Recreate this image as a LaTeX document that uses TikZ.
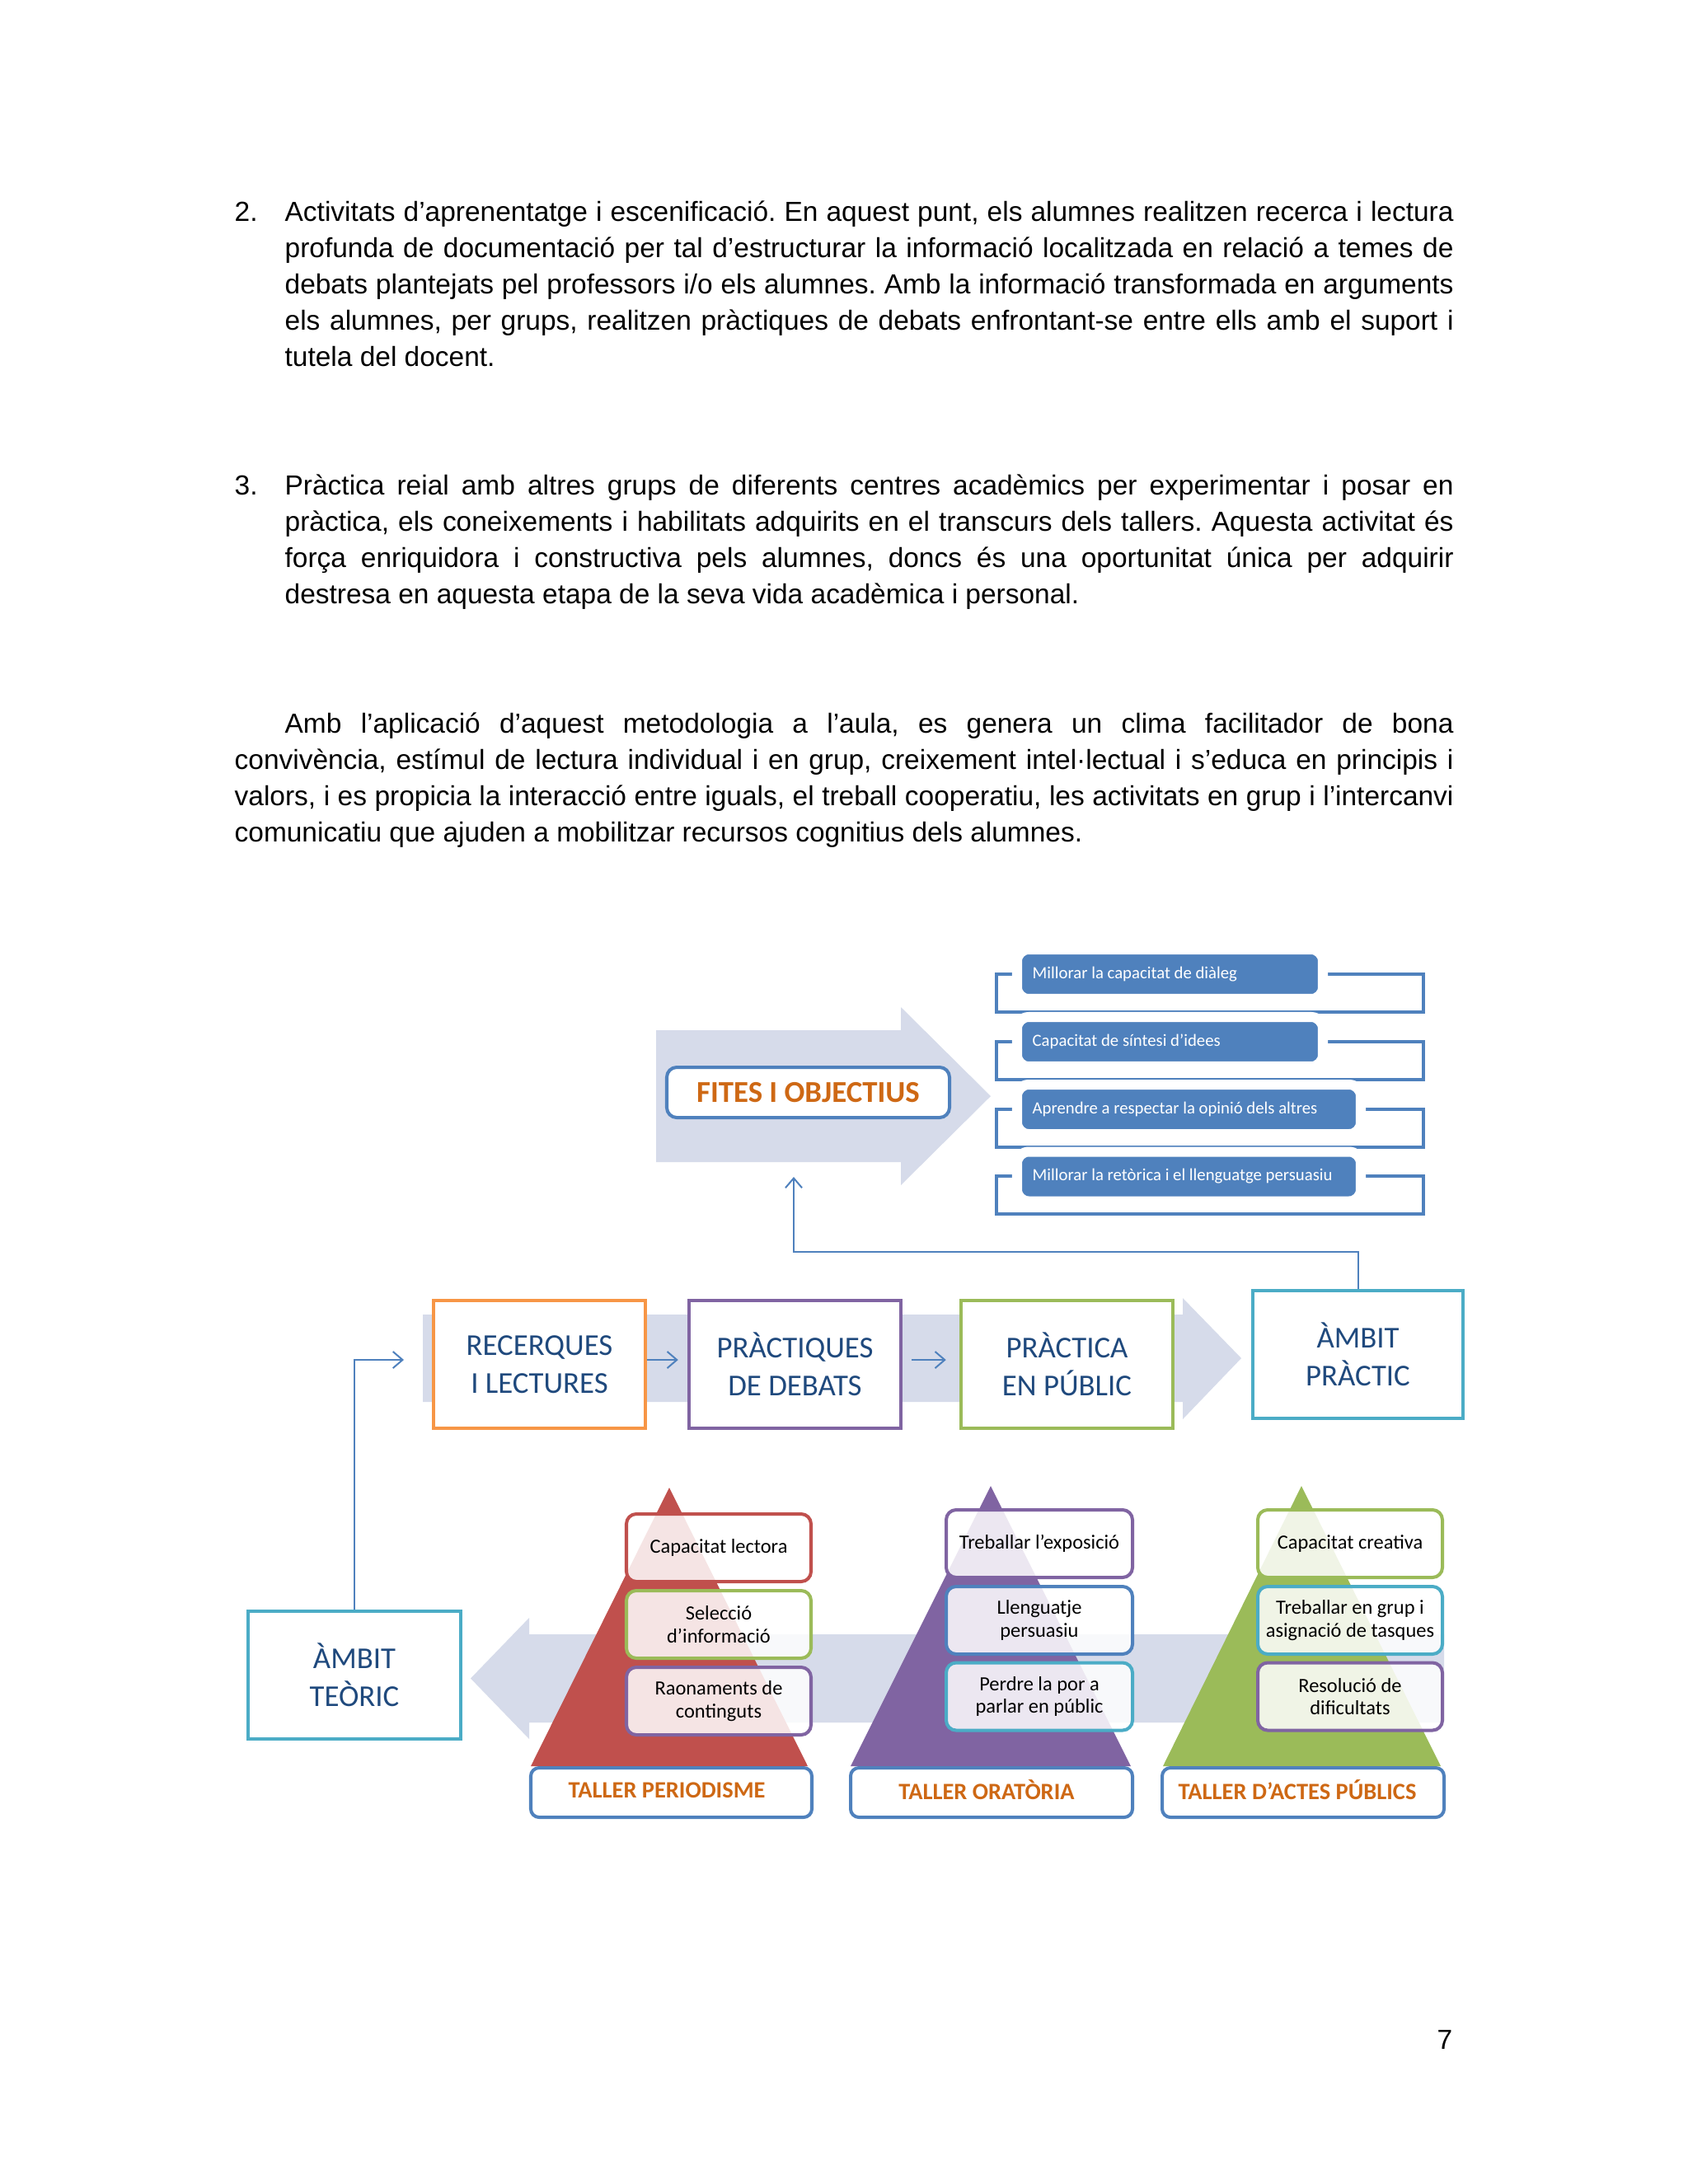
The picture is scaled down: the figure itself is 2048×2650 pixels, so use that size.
\documentclass[tikz,border=0pt]{standalone}
\usepackage{fontspec}
\setmainfont{Liberation Sans}
\newfontfamily\carl{Carlito}
\usetikzlibrary{arrows.meta}
\definecolor{band}{RGB}{214,219,234}
\definecolor{accblue}{RGB}{79,129,189}
\definecolor{accorange}{RGB}{247,150,70}
\definecolor{accpurple}{RGB}{128,100,162}
\definecolor{accgreen}{RGB}{155,187,89}
\definecolor{accteal}{RGB}{75,172,198}
\definecolor{accred}{RGB}{192,80,77}
\definecolor{navy}{RGB}{31,73,125}
\definecolor{ortext}{RGB}{206,104,20}
\newcommand\jline[1]{\makebox[423.74pt][s]{#1}}
\newcommand\fline[1]{\makebox[441.97pt][s]{#1}}
\frenchspacing
\tikzset{
  sz/.style 2 args={minimum width=#1*0.29883pt, minimum height=#2*0.29883pt},
  bodyline/.style={anchor=base west, inner sep=0pt, font=\fontsize{10}{13.15}\selectfont},
  mainbox/.style={draw, line width=1.3pt, fill=white, inner sep=0pt, align=center, text=navy, font=\carl\fontsize{11}{13.7}\selectfont},
  pybox/.style={draw, line width=1.2pt, rounded corners=3.6pt, fill=white, fill opacity=0.85, text opacity=1, inner sep=0pt, align=center, font=\carl\fontsize{7.3}{8.2}\selectfont},
  tallerbox/.style={draw=accblue, line width=1.2pt, rounded corners=3pt, fill=white, inner sep=0pt, text=ortext, font=\carl\bfseries\fontsize{8.5}{10}\selectfont},
  gbox/.style={draw=white, line width=3.6pt, fill=accblue, rounded corners=4.2pt, inner sep=0pt},
  gtext/.style={anchor=west, inner sep=0pt, text=white, font=\carl\fontsize{6.2}{7.5}\selectfont},
  bracketbox/.style={draw=accblue, line width=1.1pt, inner sep=0pt},
  conn/.style={draw=accblue, line width=0.6pt, -{Straight Barb[length=3.5pt,width=6pt]}},
}
\begin{document}
\begin{tikzpicture}[x=0.29883pt, y=-0.29883pt]
\useasboundingbox (0,0) rectangle (2048,2650);
\fill[white] (0,0) rectangle (2048,2650);

% ---------- body text ----------
\node[bodyline] (n2) at (284,268) {2.};
\node[bodyline] (p2a) at (345,268) {\jline{Activitats d’aprenentatge i escenificació. En aquest punt, els alumnes realitzen recerca i lectura}};
\node[bodyline] (p2b) at (345,312) {\jline{profunda de documentació per tal d’estructurar la informació localitzada en relació a temes de}};
\node[bodyline] (p2c) at (345,356) {\jline{debats plantejats pel professors i/o els alumnes. Amb la informació transformada en arguments}};
\node[bodyline] (p2d) at (345,400) {\jline{els alumnes, per grups, realitzen pràctiques de debats enfrontant-se entre ells amb el suport i}};
\node[bodyline] (p2e) at (345,444) {tutela del docent.};

\node[bodyline] (n3) at (284,600) {3.};
\node[bodyline] (p3a) at (345,600) {\jline{Pràctica reial amb altres grups de diferents centres acadèmics per experimentar i posar en}};
\node[bodyline] (p3b) at (345,644) {\jline{pràctica, els coneixements i habilitats adquirits en el transcurs dels tallers. Aquesta activitat és}};
\node[bodyline] (p3c) at (345,688) {\jline{força enriquidora i constructiva pels alumnes, doncs és una oportunitat única per adquirir}};
\node[bodyline] (p3d) at (345,732) {destresa en aquesta etapa de la seva vida acadèmica i personal.};

\node[bodyline] (p4a) at (345,889) {\jline{Amb l’aplicació d’aquest metodologia a l’aula, es genera un clima facilitador de bona}};
\node[bodyline] (p4b) at (284,933) {\fline{convivència, estímul de lectura individual i en grup, creixement intel·lectual i s’educa en principis i}};
\node[bodyline] (p4c) at (284,977) {\fline{valors, i es propicia la interacció entre iguals, el treball cooperatiu, les activitats en grup i l’intercanvi}};
\node[bodyline] (p4d) at (284,1021) {comunicatiu que ajuden a mobilitzar recursos cognitius dels alumnes.};

\node[anchor=base east, inner sep=0pt, font=\fontsize{10}{12}\selectfont] (pg) at (1763,2486) {7};

% ---------- FITES I OBJECTIUS ----------
\fill[band] (796,1250) -- (1093,1250) -- (1093,1222) -- (1202,1330) -- (1093,1438) -- (1093,1410) -- (796,1410) -- cycle;
\node[draw=accblue, line width=1.2pt, rounded corners=3.6pt, fill=white, sz={343}{61}, inner sep=0pt, text=ortext, font=\carl\bfseries\fontsize{11}{13}\selectfont] (fites) at (980.5,1325.5) {FITES I OBJECTIUS};
\coordinate (fin) at (963,1428);

\node[bracketbox, sz={518}{46}] (o1) at (1468,1205) {};
\node[bracketbox, sz={518}{46}] (o2) at (1468,1287) {};
\node[bracketbox, sz={518}{46}] (o3) at (1468,1369) {};
\node[bracketbox, sz={518}{46}] (o4) at (1468,1450) {};
\node[gbox, sz={371}{60}] (g1) at (1419.5,1182) {};
\node[gbox, sz={371}{60}] (g2) at (1419.5,1264) {};
\node[gbox, sz={417}{60}] (g3) at (1442.5,1346) {};
\node[gbox, sz={417}{60}] (g4) at (1442.5,1427.5) {};
\node[gtext] (g1t) at (1252,1182) {Millorar la capacitat de diàleg};
\node[gtext] (g2t) at (1252,1264) {Capacitat de síntesi d’idees};
\node[gtext] (g3t) at (1252,1346) {Aprendre a respectar la opinió dels altres};
\node[gtext] (g4t) at (1252,1427.5) {Millorar la retòrica i el llenguatge persuasiu};

% ---------- main row ----------
\fill[band] (513,1595) -- (1435,1595) -- (1435,1575) -- (1506,1648) -- (1435,1722) -- (1435,1701) -- (513,1701) -- cycle;
\node[mainbox, draw=accorange, sz={257}{155}] (rec) at (654.5,1655.5) {RECERQUES\\I LECTURES};
\node[mainbox, draw=accpurple, sz={257}{155}] (prq) at (964.5,1655.5) {PRÀCTIQUES\\DE DEBATS};
\node[mainbox, draw=accgreen, sz={257}{155}] (prp) at (1294.5,1655.5) {PRÀCTICA\\EN PÚBLIC};
\node[mainbox, draw=accteal, sz={255}{155}] (ambp) at (1647.5,1643.5) {ÀMBIT\\PRÀCTIC};
\node[mainbox, draw=accteal, sz={258}{155}] (ambt) at (430,2032.5) {ÀMBIT\\TEÒRIC};

% ---------- tallers ----------
\fill[band] (1752,1983) -- (642,1983) -- (642,1963) -- (571,2036.5) -- (642,2110) -- (642,2090) -- (1752,2090) -- cycle;
\fill[accred] (812,1805) -- (980,2143) -- (644,2143) -- cycle;
\fill[accpurple] (1202,1803) -- (1372,2143) -- (1032,2143) -- cycle;
\fill[accgreen] (1579,1803) -- (1748,2143) -- (1411,2143) -- cycle;

\node[pybox, draw=accred, sz={224}{82}] (c1a) at (872,1878) {Capacitat lectora};
\node[pybox, draw=accgreen, sz={224}{82}] (c1b) at (872,1971) {Selecció\\d’informació};
\node[pybox, draw=accpurple, sz={224}{82}] (c1c) at (872,2064) {Raonaments de\\continguts};
\node[pybox, draw=accpurple, sz={226}{82}] (c2a) at (1261,1873) {Treballar l’exposició};
\node[pybox, draw=accblue, sz={226}{82}] (c2b) at (1261,1966) {Llenguatje\\persuasiu};
\node[pybox, draw=accteal, sz={226}{82}] (c2c) at (1261,2058.5) {Perdre la por a\\parlar en públic};
\node[pybox, draw=accgreen, sz={224}{82}] (c3a) at (1638,1873) {Capacitat creativa};
\node[pybox, draw=accteal, sz={224}{82}] (c3b) at (1638,1966) {Treballar en grup i\\asignació de tasques};
\node[pybox, draw=accpurple, sz={224}{82}] (c3c) at (1638,2058.5) {Resolució de\\dificultats};

\node[tallerbox, sz={341}{60}] (t1) at (814.5,2175) {};
\node[tallerbox, sz={342}{60}] (t2) at (1203,2175) {};
\node[tallerbox, sz={342}{60}] (t3) at (1581,2175) {};
\node[inner sep=0pt, text=ortext, font=\carl\bfseries\fontsize{8.5}{10}\selectfont] (t1t) at (809,2172) {TALLER PERIODISME};
\node[inner sep=0pt, text=ortext, font=\carl\bfseries\fontsize{8.5}{10}\selectfont] (t2t) at (1197,2172) {TALLER ORATÒRIA};
\node[inner sep=0pt, text=ortext, font=\carl\bfseries\fontsize{8.5}{10}\selectfont] (t3t) at (1574,2172) {TALLER D’ACTES PÚBLICS};

% ---------- connectors ----------
\coordinate (k1) at (963,1519);
\coordinate (k2) at (490,1650);
\draw[conn] (ambp.north) |- (k1) -- (fin);
\draw[conn] (ambt.north) |- (k2);
\draw[conn, shorten >=3.3pt] (rec.east |- k2) -- (prq.west |- k2);
\draw[conn, shorten <=3.3pt, shorten >=4.8pt] (prq.east |- k2) -- (prp.west |- k2);
\end{tikzpicture}
\end{document}
